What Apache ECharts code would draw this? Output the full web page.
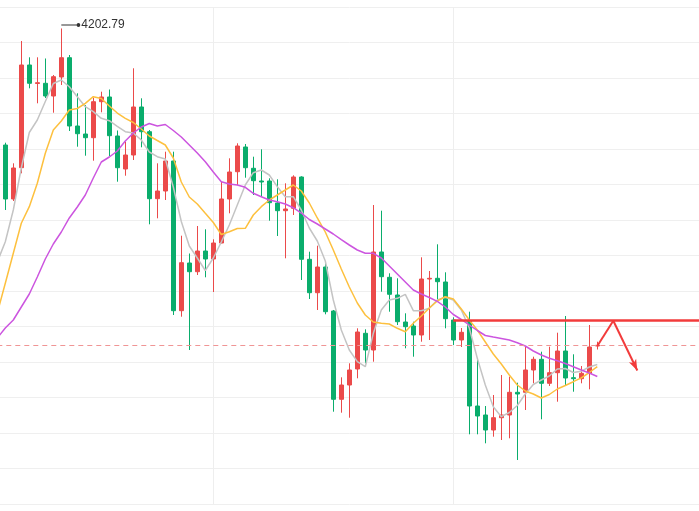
<!DOCTYPE html>
<html>
<head>
<meta charset="utf-8">
<script src="https://cdn.jsdelivr.net/npm/echarts@6/dist/echarts.min.js"></script>
<style>
html,body{margin:0;padding:0;background:#ffffff;}
#chart{width:699px;height:511px;}
</style>
</head>
<body>
<div id="chart"></div>
<script>
// ---- candle values (one entry per trading day) ----
const opens = [4055.07,3986.62,4026.30,4156.48,4133.03,4133.28,4117.18,4141.27,4165.73,4079.15,
4069.01,4064.32,4109.96,4115.92,4066.48,4024.65,4042.39,4103.24,4071.93,3987.00,
3996.76,4034.79,3845.03,3905.49,3894.46,3920.70,3910.56,3930.84,3986.62,4021.22,
4052.54,4025.54,4009.44,4009.44,3981.55,3971.79,3974.83,4014.51,3910.18,3867.84,
3900.42,3844.65,3732.72,3750.84,3771.13,3816.38,3795.21,3919.44,3887.37,3864.93,
3830.70,3825.63,3814.23,3885.21,3886.10,3881.41,3833.24,3807.89,3832.35,3724.22,
3712.82,3693.80,3709.39,3712.82,3741.59,3741.59,3769.86,3783.42,3753.00,3766.44,
3793.94,3760.10,3758.83,3765.66,3800.28];
const closes = [3986.62,4025.92,4156.48,4133.28,4134.04,4117.18,4141.65,4165.73,4079.15,4069.39,
4064.32,4109.96,4115.92,4066.86,4026.30,4042.39,4103.24,4071.93,3987.00,3996.76,
4034.79,3845.03,3905.87,3894.46,3920.70,3910.56,3930.84,3986.62,4020.84,4053.80,
4026.30,4009.82,4008.17,3981.93,3971.79,3973.94,4014.51,3910.18,3867.84,3900.42,
3843.76,3732.72,3750.84,3769.86,3818.03,3795.21,3919.44,3888.13,3865.82,3831.08,
3824.75,3814.23,3885.21,3886.10,3881.79,3834.89,3807.89,3817.65,3724.22,3711.55,
3693.80,3709.39,3712.82,3741.59,3739.44,3769.86,3783.42,3753.00,3766.44,3793.94,
3759.72,3758.83,3765.66,3799.01,3801.17];
const highs = [4057.99,4031.87,4186.90,4166.24,4166.24,4164.72,4143.80,4202.79,4169.15,4120.61,
4105.77,4115.03,4122.63,4125.42,4073.45,4059.25,4152.30,4114.27,4074.08,4031.87,
4046.58,4046.58,3940.10,3917.53,3952.39,3948.21,3935.53,4008.55,4038.21,4057.23,
4056.34,4040.24,4049.62,4012.86,4011.59,4006.52,4016.66,4015.40,3919.82,3927.42,
3906.38,3845.92,3760.60,3778.35,3822.72,3821.45,3979.01,3971.79,3892.44,3886.10,
3841.73,3831.08,3912.72,3895.35,3929.20,3893.70,3836.66,3823.10,3843.76,3784.69,
3724.22,3738.17,3763.52,3761.37,3753.76,3799.39,3786.72,3793.06,3799.39,3817.14,
3838.31,3789.76,3774.93,3826.90,3805.73];
const lows = [3972.68,3984.08,4019.20,4126.94,4107.93,4114.65,4096.01,4131.13,4072.82,4052.92,
4041.51,4035.17,4096.52,4041.13,4008.55,4016.15,4036.06,4052.15,3954.55,3962.15,
3985.35,3839.58,3837.42,3795.21,3890.28,3887.37,3868.73,3930.46,3968.49,4004.37,
4013.62,3991.69,3989.53,3959.11,3939.72,3911.45,3966.34,3883.94,3859.86,3845.92,
3840.46,3717.00,3715.73,3709.39,3759.34,3778.35,3780.38,3869.11,3843.76,3826.90,
3797.37,3786.72,3805.73,3807.89,3856.44,3822.72,3801.55,3799.01,3688.35,3688.35,
3676.94,3685.31,3681.13,3683.28,3655.78,3719.15,3753.00,3707.37,3749.58,3729.68,
3750.84,3742.35,3753.00,3745.39,3795.84];

// ---- moving averages as drawn (value just before the window, then one per candle) ----
const ma5Prev = 3906.76;
const ma5 = [3932.49,3972.68,4025.92,4070.92,4086.76,4110.21,4133.03,4137.46,4128.97,4116.30,
4103.62,4097.28,4088.92,4085.87,4078.77,4071.93,4070.28,4061.41,4046.20,4040.24,
4037.32,4001.83,3958.10,3927.04,3911.83,3895.99,3911.83,3932.11,3953.66,3979.01,
4004.37,4019.96,4023.38,4017.04,4002.21,3989.53,3989.53,3972.68,3949.86,3933.38,
3908.03,3858.59,3820.56,3795.21,3780.38,3774.04,3816.38,3845.92,3858.59,3860.75,
3865.82,3845.03,3845.03,3848.07,3858.59,3862.01,3858.59,3845.92,3823.10,3784.69,
3750.84,3723.34,3710.66,3715.99,3724.86,3739.44,3751.48,3757.18,3762.25,3771.13,
3771.76,3766.69,3768.34,3773.66,3776.83];
const ma10Prev = 3842.11;
const ma10 = [3879.76,3917.79,3955.82,3976.86,4006.52,4044.55,4074.08,4085.49,4099.44,4101.34,
4107.93,4116.30,4114.01,4104.51,4095.63,4088.92,4083.59,4075.35,4066.48,4060.77,
4055.07,4038.59,4008.17,3989.15,3980.28,3968.49,3956.83,3941.62,3945.17,3949.23,
3949.48,3966.34,3976.86,3985.35,3991.69,3998.03,4004.37,3996.76,3981.55,3962.54,
3944.79,3921.97,3897.89,3875.07,3854.79,3839.58,3830.70,3829.06,3828.17,3822.72,
3818.41,3829.06,3838.31,3848.45,3857.32,3862.77,3859.86,3847.18,3833.24,3820.56,
3805.35,3790.14,3777.46,3763.52,3750.84,3743.24,3739.44,3734.37,3738.80,3745.77,
3750.21,3755.03,3759.97,3766.69,3774.04];
const ma20Prev = 3810.42;
const ma20 = [3823.10,3833.24,3849.72,3866.20,3887.75,3910.56,3929.58,3944.79,3962.54,3976.48,
3991.69,4013.24,4033.52,4039.86,4047.46,4060.14,4070.28,4077.89,4082.32,4079.15,
4081.06,4073.45,4065.21,4055.07,4044.93,4033.90,4020.84,4008.55,4005.63,4004.37,
4001.45,3993.84,3989.53,3985.35,3983.20,3980.28,3975.59,3968.87,3960.63,3954.93,
3948.59,3942.25,3935.03,3928.31,3921.97,3917.79,3917.79,3911.83,3901.69,3891.55,
3881.41,3871.27,3866.20,3861.76,3856.94,3849.72,3840.21,3833.87,3826.90,3819.93,
3813.59,3811.69,3809.91,3807.89,3804.46,3800.28,3793.94,3788.87,3784.69,3781.65,
3778.09,3774.04,3769.86,3766.06,3761.61];

// ---- annotations (candle index, price) ----
const resistanceLevel = 3832.5;
const resistanceStart = 56;
const arrowPath = [[74, 3800.3], [76, 3832.3], [79, 3769.2]];
const monthSplits = [26, 56];

// ---- axis settings ----
const yMin = 3600, yMax = 4230, yStep = 45;
const LEAD = 1, TRAIL = 13;

const UP = '#EB4A4A', DOWN = '#0AAD6C';
const n = opens.length;
const total = LEAD + n + TRAIL;
const categories = Array.from({length: total}, (_, i) => 'D' + (i - LEAD + 1));
const cat = i => categories[i + LEAD];
const candleData = [['-', '-', '-', '-']].concat(opens.map((o, i) => [o, closes[i], lows[i], highs[i]]));
const splitSet = monthSplits.map(i => i + LEAD);

const chart = echarts.init(document.getElementById('chart'), null, {renderer: 'canvas'});
const dashStyle = {color: '#F09595', width: 1, type: [5, 4], opacity: 1};
const redLine = {color: '#F23B3B', width: 2.5, type: 'solid', opacity: 1};
const arrowLine = {color: '#F23B3B', width: 2, type: 'solid', opacity: 1};

chart.setOption({
  animation: false,
  backgroundColor: '#ffffff',
  grid: {left: -2.7, right: -2.3, top: 7, bottom: 7, containLabel: false, outerBoundsMode: 'none'},
  xAxis: {
    type: 'category', data: categories, boundaryGap: false,
    axisLine: {show: false}, axisTick: {show: false}, axisLabel: {show: false},
    splitLine: {show: true, interval: (idx) => splitSet.indexOf(idx) >= 0, lineStyle: {color: '#eeeeee', width: 1}}
  },
  yAxis: {
    type: 'value', min: yMin, max: yMax, interval: yStep,
    axisLine: {show: false}, axisTick: {show: false}, axisLabel: {show: false},
    splitLine: {show: true, lineStyle: {color: '#efefef', width: 1}}
  },
  series: [
    {
      type: 'candlestick', data: candleData, barWidth: 5, clip: false, silent: true,
      itemStyle: {color: UP, color0: DOWN, borderColor: UP, borderColor0: DOWN, borderWidth: 1},
      markPoint: {
        silent: true, animation: false,
        symbol: 'path://M0,1.5L17,1.5L17,2.5L0,2.5Z M16.5,2A2,2,0,1,1,20.5,2A2,2,0,1,1,16.5,2Z',
        symbolSize: [19, 4], symbolOffset: [9.5, -3.5], symbolKeepAspect: false,
        itemStyle: {color: '#333333'},
        label: {show: true, position: 'right', distance: 1, color: '#333333', fontSize: 12,
          fontFamily: 'Liberation Sans, Arial, sans-serif',
          formatter: p => Number(p.value).toFixed(2)},
        data: [{type: 'max', valueDim: 'highest', name: 'max'}]
      },
      markLine: {
        silent: true, animation: false, symbol: ['none', 'none'], label: {show: false},
        lineStyle: dashStyle,
        data: [
          {yAxis: closes[n - 1], lineStyle: dashStyle},
          [{coord: [cat(resistanceStart), resistanceLevel], lineStyle: redLine},
           {coord: [categories[total - 1], resistanceLevel], lineStyle: redLine}],
          [{coord: [cat(arrowPath[0][0]), arrowPath[0][1]], lineStyle: arrowLine},
           {coord: [cat(arrowPath[1][0]), arrowPath[1][1]], lineStyle: arrowLine}],
          [{coord: [cat(arrowPath[1][0]), arrowPath[1][1]], lineStyle: arrowLine},
           {coord: [cat(arrowPath[2][0]), arrowPath[2][1]], lineStyle: arrowLine, symbol: 'arrow', symbolSize: [6, 11]}]
        ]
      }
    },
    {type: 'line', data: [ma5Prev].concat(ma5), symbol: 'none', silent: true,
     lineStyle: {color: '#C4C4C4', width: 1.5}, itemStyle: {color: '#C4C4C4'}},
    {type: 'line', data: [ma10Prev].concat(ma10), symbol: 'none', silent: true,
     lineStyle: {color: '#FDC03E', width: 1.5}, itemStyle: {color: '#FDC03E'}},
    {type: 'line', data: [ma20Prev].concat(ma20), symbol: 'none', silent: true,
     lineStyle: {color: '#CC55DF', width: 1.5}, itemStyle: {color: '#CC55DF'}}
  ]
});
</script>
</body>
</html>
